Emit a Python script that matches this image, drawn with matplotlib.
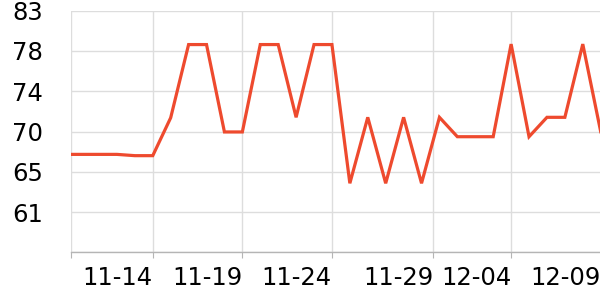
import matplotlib
matplotlib.use("Agg")
import matplotlib.pyplot as plt

# days counted from 11-14
days = [-5, -4, -3, -2, -1, 0, 1, 2, 3, 4, 5, 6, 7, 8, 9, 10, 11, 12, 13, 14,
        15, 16, 17, 18, 19, 20, 21, 22, 23, 24, 25]
values = [67.5, 67.5, 67.5, 67.5, 67.36, 67.36, 71.5, 79.5, 79.5, 69.95, 69.95,
          79.5, 79.5, 71.55, 79.5, 79.5, 64.34, 71.55, 64.34, 71.55, 64.34,
          71.55, 69.43, 69.43, 69.43, 79.55, 69.43, 71.55, 71.55, 79.55, 69.98]

x_ticks = [-4.58, 0, 5, 10, 15.66, 20, 25]
x_labels = ["", "11-14", "11-19", "11-24", "11-29", "12-04", "12-09"]
y_ticks = [56.8, 61.2, 65.6, 70.0, 74.4, 78.8, 83.2]
y_labels = ["", "61", "65", "70", "74", "78", "83"]

fig = plt.figure(figsize=(6, 3), dpi=100)
ax = fig.add_axes([70.7 / 600, 47.7 / 300, 530 / 600, 241.6 / 300])

ax.plot(days, values, color="#ee4a2e", lw=2.3, solid_joinstyle="miter", clip_on=True)

ax.set_xlim(-4.58, 25)
ax.set_ylim(56.8, 83.2)
ax.set_xticks(x_ticks)
ax.set_xticklabels(x_labels, ha="right")
ax.set_yticks(y_ticks)
ax.set_yticklabels(y_labels)

ax.grid(True, color="#dddddd", lw=1)
ax.set_axisbelow(True)
for s in ["top", "right", "left"]:
    ax.spines[s].set_visible(False)
ax.spines["bottom"].set_color("#b5b5b5")
ax.spines["bottom"].set_linewidth(1)

ax.tick_params(axis="y", length=0, pad=20, labelsize=17.5)
ax.tick_params(axis="x", length=4, color="#b5b5b5", pad=6, labelsize=17.5)

fig.savefig("out.png", dpi=100)
